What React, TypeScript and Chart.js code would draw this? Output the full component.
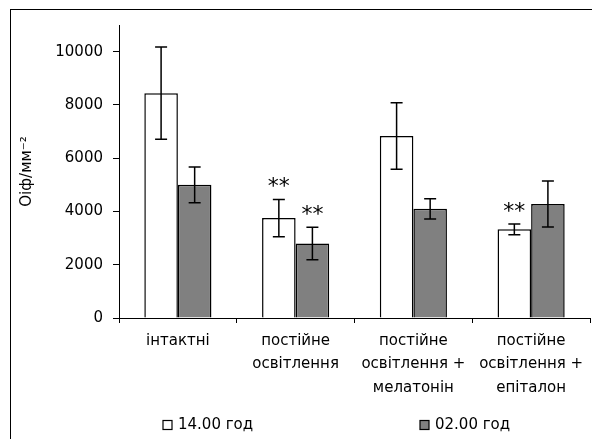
import React, { useEffect, useRef } from "react";
import { Chart, registerables } from "chart.js";

Chart.register(...registerables);

// ---- data ----
const categories: string[][] = [
  ["інтактні"],
  ["постійне", "освітлення"],
  ["постійне", "освітлення +", "мелатонін"],
  ["постійне", "освітлення +", "епіталон"],
];
const seriesNames = ["14.00 год", "02.00 год"];
const dayValues = [8440, 3750, 6830, 3330];
const dayErrors = [1730, 700, 1250, 200];
const nightValues = [5000, 2800, 4100, 4280];
const nightErrors = [670, 610, 380, 860];
const daySignificance = ["", "**", "", "**"];
const nightSignificance = ["", "**", "", ""];
const yTickValues = [0, 2000, 4000, 6000, 8000, 10000];
const yMin = 0;
const yMax = 11000;
const yTitle = "Оіф/мм⁻²";

const FONT = "DejaVu Sans";
const errorsByDataset = [dayErrors, nightErrors];
const starsByDataset = [daySignificance, nightSignificance];

const errorBarPlugin = {
  id: "errorBars",
  afterDatasetsDraw(chart: any) {
    const ctx = chart.ctx;
    const yScale = chart.scales.y;
    ctx.save();
    chart.data.datasets.forEach((ds: any, di: number) => {
      const meta = chart.getDatasetMeta(di);
      const errs = errorsByDataset[di];
      const stars = starsByDataset[di];
      meta.data.forEach((bar: any, i: number) => {
        const v = ds.data[i];
        const e = errs[i];
        const yTop = yScale.getPixelForValue(v + e);
        const yBot = yScale.getPixelForValue(v - e);
        const x = bar.x;
        ctx.strokeStyle = "#000";
        ctx.lineWidth = 1.5;
        ctx.beginPath();
        ctx.moveTo(x, yTop);
        ctx.lineTo(x, yBot);
        ctx.moveTo(x - 6, yTop);
        ctx.lineTo(x + 6, yTop);
        ctx.moveTo(x - 6, yBot);
        ctx.lineTo(x + 6, yBot);
        ctx.stroke();
        if (stars[i]) {
          ctx.fillStyle = "#000";
          ctx.font = `22px "${FONT}"`;
          ctx.textAlign = "center";
          ctx.textBaseline = "alphabetic";
          ctx.fillText(stars[i], x, yTop - 6);
        }
      });
    });
    ctx.restore();
  },
};

const legendPlugin = {
  id: "customLegend",
  afterDraw(chart: any) {
    const ctx = chart.ctx;
    const positions = [163, 420];
    const y = 425;
    ctx.save();
    chart.data.datasets.forEach((ds: any, di: number) => {
      const x = positions[di];
      ctx.fillStyle = ds.backgroundColor;
      ctx.fillRect(x, y - 4.5, 9, 9);
      ctx.strokeStyle = "#000";
      ctx.lineWidth = 1.2;
      ctx.strokeRect(x, y - 4.5, 9, 9);
      ctx.fillStyle = "#000";
      ctx.font = `15px "${FONT}"`;
      ctx.textAlign = "left";
      ctx.textBaseline = "middle";
      ctx.fillText(ds.label, x + 15, y);
    });
    ctx.restore();
  },
};

export default function App() {
  const ref = useRef<HTMLCanvasElement>(null);
  useEffect(() => {
    if (!ref.current) return;
    const chart = new Chart(ref.current, {
      type: "bar",
      data: {
        labels: categories,
        datasets: [
          {
            label: seriesNames[0],
            data: dayValues,
            backgroundColor: "#ffffff",
            borderColor: "#000000",
            borderWidth: 1.5,
          },
          {
            label: seriesNames[1],
            data: nightValues,
            backgroundColor: "#808080",
            borderColor: "#000000",
            borderWidth: 1.5,
          },
        ],
      },
      options: {
        responsive: false,
        animation: false,
        layout: { padding: { top: 25, right: 2, left: 0, bottom: 0 } },
        datasets: { bar: { categoryPercentage: 0.57, barPercentage: 1 } },
        plugins: { legend: { display: false }, tooltip: { enabled: false } },
        scales: {
          x: {
            grid: { display: true, drawOnChartArea: false, tickLength: 5, color: "#000", offset: true },
            border: { display: true, color: "#000", width: 1 },
            ticks: {
              color: "#000",
              font: { family: FONT, size: 15, lineHeight: 1.57 },
              padding: 6,
              maxRotation: 0,
              autoSkip: false,
            },
            afterFit: (s: any) => {
              s.height = 121;
            },
          },
          y: {
            min: yMin,
            max: yMax,
            afterBuildTicks: (s: any) => {
              s.ticks = yTickValues.map((v) => ({ value: v }));
            },
            ticks: {
              color: "#000",
              font: { family: FONT, size: 15 },
              padding: 10,
              callback: (v: any) => String(v),
            },
            grid: { display: true, drawOnChartArea: false, tickLength: 6, color: "#000" },
            border: { display: true, color: "#000", width: 1 },
            title: {
              display: true,
              text: yTitle,
              color: "#000",
              font: { family: FONT, size: 15 },
              padding: { top: 18, bottom: 0 },
            },
            afterFit: (s: any) => {
              s.width = 119;
            },
          },
        },
      },
      plugins: [errorBarPlugin, legendPlugin],
    });
    return () => chart.destroy();
  }, []);

  return (
    <div
      style={{
        position: "fixed",
        left: 0,
        top: 0,
        width: 592,
        height: 439,
        overflow: "hidden",
        background: "#fff",
      }}
    >
      <div
        style={{
          position: "absolute",
          left: 10,
          top: 9,
          width: 700,
          height: 600,
          border: "1px solid #000",
        }}
      />
      <canvas
        ref={ref}
        width={592}
        height={439}
        style={{ position: "absolute", left: 0, top: 0, width: 592, height: 439 }}
      />
    </div>
  );
}
